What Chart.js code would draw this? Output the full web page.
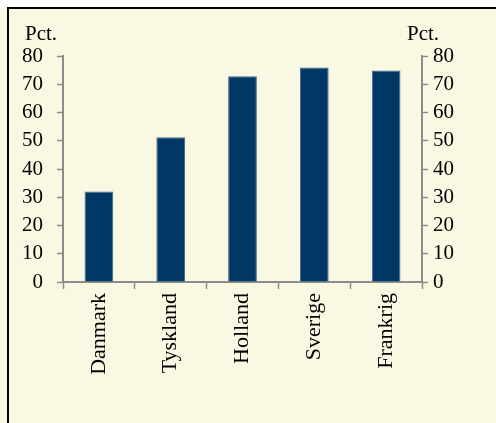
<!DOCTYPE html>
<html>
<head>
<meta charset="utf-8">
<script src="https://cdn.jsdelivr.net/npm/chart.js@4/dist/chart.umd.min.js"></script>
<style>
  html, body { margin: 0; padding: 0; background: #F9F8E3; width: 496px; height: 423px; overflow: hidden; }
  #topStrip { position: absolute; left: 0; top: 0; width: 496px; height: 7px; background: #fff; }
  #topLine { position: absolute; left: 7px; top: 7px; width: 489px; height: 2px; background: #000; }
  #leftLine { position: absolute; left: 7px; top: 7px; width: 2px; height: 416px; background: #000; }
  #wrap { position: absolute; left: 0; top: 0; width: 496px; height: 423px; }
</style>
</head>
<body>
<div id="topStrip"></div>
<div id="topLine"></div>
<div id="leftLine"></div>
<div id="wrap"><canvas id="chart"></canvas></div>
<script>
const countries = ['Danmark', 'Tyskland', 'Holland', 'Sverige', 'Frankrig'];
const shares = [32, 51.2, 72.8, 75.9, 74.9];
const axisUnit = 'Pct.';

const fontFamily = '"Liberation Serif", "DejaVu Serif", serif';
const axisColor = '#8C8C8C';
const barColor = '#003865';

// "Pct." labels above both value axes
const unitLabels = {
  id: 'unitLabels',
  afterDraw(chart) {
    const { ctx, chartArea } = chart;
    ctx.save();
    ctx.font = `21px ${fontFamily}`;
    ctx.fillStyle = '#000';
    ctx.textBaseline = 'alphabetic';
    ctx.textAlign = 'left';
    ctx.fillText(axisUnit, chartArea.left - 38, 40);
    ctx.fillText(axisUnit, chartArea.right - 15, 40);
    ctx.restore();
  }
};

const yAxis = (position, width) => ({
  position,
  min: 0,
  max: 80,
  afterFit: (scale) => { scale.width = width; },
  border: { display: true, color: axisColor, width: 2 },
  grid: { drawOnChartArea: false, color: axisColor, tickLength: 6, tickWidth: 1.5 },
  ticks: { stepSize: 10, padding: position === 'left' ? 14 : 5, color: '#000', font: { family: fontFamily, size: 21 } }
});

new Chart(document.getElementById('chart'), {
  type: 'bar',
  data: {
    labels: countries,
    datasets: [{
      data: shares,
      backgroundColor: barColor,
      borderColor: '#3F6689',
      borderWidth: 1,
      barPercentage: 0.4,
      categoryPercentage: 1,
      yAxisID: 'y'
    }]
  },
  options: {
    responsive: true,
    maintainAspectRatio: false,
    animation: false,
    layout: { padding: { left: 22, right: 42, top: 56, bottom: 0 } },
    plugins: { legend: { display: false }, tooltip: { enabled: false } },
    scales: {
      x: {
        afterFit: (scale) => { scale.height = 141; },
        border: { display: true, color: axisColor, width: 2 },
        grid: { offset: true, drawOnChartArea: false, color: axisColor, tickLength: 7, tickWidth: 1.5 },
        ticks: { minRotation: 90, maxRotation: 90, padding: 4, color: '#000', font: { family: fontFamily, size: 22 } }
      },
      y: yAxis('left', 41),
      y1: yAxis('right', 32)
    }
  },
  plugins: [unitLabels]
});
</script>
</body>
</html>
